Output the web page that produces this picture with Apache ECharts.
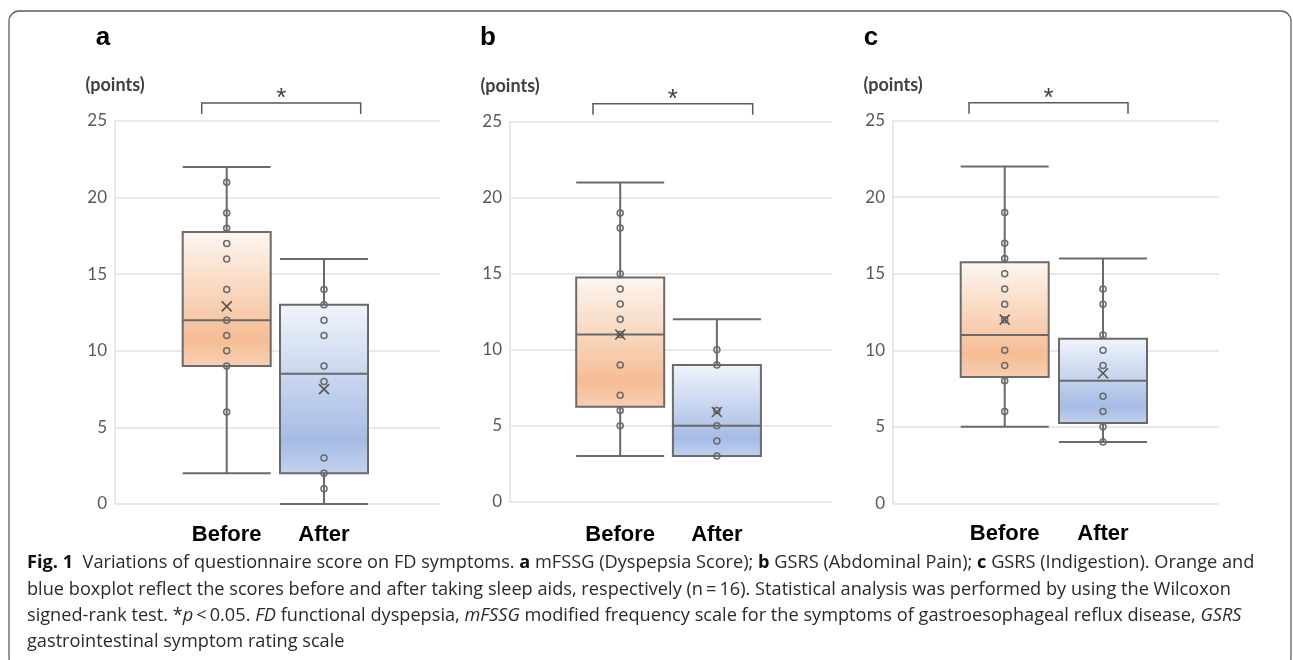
<!DOCTYPE html>
<html>
<head>
<meta charset="utf-8">
<script src="https://cdn.jsdelivr.net/npm/echarts@6/dist/echarts.min.js"></script>
<style>
  html, body { margin: 0; padding: 0; background: #fff; }
  #chart { width: 1293px; height: 660px; }
</style>
</head>
<body>
<div id="chart"></div>
<script>
// categories and y ticks
const categories = ['Before', 'After'];
const yTicks = [0, 5, 10, 15, 20, 25];

// box stats: [min, Q1, median, Q3, max]
const boxA = [[2, 9, 12, 17.75, 22], [0, 2, 8.5, 13, 16]];
const boxB = [[3, 6.25, 11, 14.75, 21], [3, 3, 5, 9, 12]];
const boxC = [[5, 8.25, 11, 15.75, 22], [4, 5.25, 8, 10.75, 16]];

// means (x markers)
const meanA = [12.9, 7.5];
const meanB = [11, 5.9];
const meanC = [12, 8.5];

// inner points
const dotsABefore = [21, 19, 18, 17, 16, 14, 12, 11, 10, 9, 6];
const dotsAAfter = [14, 13, 12, 11, 9, 8, 3, 2, 1];
const dotsBBefore = [19, 18, 15, 14, 13, 12, 11, 9, 7, 6, 5];
const dotsBAfter = [10, 9, 6, 5, 4, 3];
const dotsCBefore = [19, 17, 16, 15, 14, 13, 12, 10, 9, 8, 6];
const dotsCAfter = [14, 13, 11, 10, 9, 7, 6, 5, 4];

const captionLines = [
  '{b|Fig. 1}  Variations of questionnaire score on FD symptoms. {b|a} mFSSG (Dyspepsia Score); {b|b} GSRS (Abdominal Pain); {b|c} GSRS (Indigestion). Orange and',
  'blue boxplot reflect the scores before and after taking sleep aids, respectively (n\u2009=\u200916). Statistical analysis was performed by using the Wilcoxon',
  'signed-rank test. *{i|p}\u2009<\u20090.05. {i|FD} functional dyspepsia, {i|mFSSG} modified frequency scale for the symptoms of gastroesophageal reflux disease, {i|GSRS}',
  'gastrointestinal symptom rating scale'
];

// layout of each panel
const panels = [
  { letter: 'a', box: boxA, mean: meanA, dots: [dotsABefore, dotsAAfter],
    gridL: 115, gridR: 440, top: 121, zero: 504, c0: 226.7, c1: 324, br: [201.7, 360.7], letterX: 103, labelMargin: 20 },
  { letter: 'b', box: boxB, mean: meanB, dots: [dotsBBefore, dotsBAfter],
    gridL: 510, gridR: 832, top: 121.7, zero: 501.7, c0: 620.2, c1: 716.9, br: [593, 752.7], letterX: 488, labelMargin: 22.5 },
  { letter: 'c', box: boxC, mean: meanC, dots: [dotsCBefore, dotsCAfter],
    gridL: 893, gridR: 1219, top: 120.7, zero: 503.3, c0: 1004.7, c1: 1103, br: [969, 1128], letterX: 871, labelMargin: 19.5 }
];

const palettes = [
  ['#fdf6f1', '#f5bd94', '#f8cfb2'],
  ['#f0f4fb', '#a6bce5', '#c3d2ef']
];

// gradient relative to the whole box path (whiskers included), so map onto box part
function boxGradient(s, pal) {
  const span = s[4] - s[0] || 1;
  const t = (s[4] - s[3]) / span;
  const b = (s[4] - s[1]) / span;
  const at = (f) => t + (b - t) * f;
  return new echarts.graphic.LinearGradient(0, 0, 0, 1, [
    { offset: 0, color: pal[0] },
    { offset: at(0), color: pal[0] },
    { offset: at(0.8), color: pal[1] },
    { offset: at(1), color: pal[2] },
    { offset: 1, color: pal[2] }
  ]);
}

const lineColor = '#6a6a6a';
const grid = [], xAxis = [], yAxis = [], series = [], graphic = [];

panels.forEach((p, k) => {
  const band = p.c1 - p.c0;
  grid.push({ left: p.gridL, width: p.gridR - p.gridL, top: p.top, height: p.zero - p.top });
  grid.push({ left: p.c0 - band / 2, width: band * 2, top: p.top, height: p.zero - p.top });

  xAxis.push({ type: 'value', gridIndex: 2 * k, show: false, min: 0, max: 1 });
  yAxis.push({
    type: 'value', gridIndex: 2 * k,
    min: yTicks[0], max: yTicks[yTicks.length - 1], interval: yTicks[1] - yTicks[0],
    axisLine: { show: true, lineStyle: { color: '#e0e0e0', width: 1.5 } },
    axisTick: { show: false },
    splitLine: { lineStyle: { color: '#e2e2e2', width: 1.5 } },
    axisLabel: { color: '#595959', fontFamily: 'Lato', fontSize: 17, margin: 8 }
  });
  xAxis.push({
    type: 'category', gridIndex: 2 * k + 1, data: categories,
    axisLine: { show: false }, axisTick: { show: false },
    axisLabel: { color: '#000', fontFamily: 'Liberation Sans', fontWeight: 'bold', fontSize: 22, margin: p.labelMargin }
  });
  yAxis.push({
    type: 'value', gridIndex: 2 * k + 1, show: false,
    min: yTicks[0], max: yTicks[yTicks.length - 1], interval: yTicks[1] - yTicks[0],
    splitLine: { show: false }
  });

  series.push({
    type: 'boxplot', xAxisIndex: 2 * k + 1, yAxisIndex: 2 * k + 1,
    boxWidth: [88, 88],
    itemStyle: { borderColor: lineColor, borderWidth: 2 },
    data: p.box.map((s, i) => ({ value: s, itemStyle: { color: boxGradient(s, palettes[i]) } }))
  });
  series.push({
    type: 'scatter', xAxisIndex: 2 * k + 1, yAxisIndex: 2 * k + 1,
    symbol: 'circle', symbolSize: 6,
    itemStyle: { color: 'rgba(0,0,0,0)', borderColor: '#6a6a6a', borderWidth: 1.5, opacity: 1 },
    data: p.dots[0].map(v => [0, v]).concat(p.dots[1].map(v => [1, v]))
  });
  series.push({
    type: 'scatter', xAxisIndex: 2 * k + 1, yAxisIndex: 2 * k + 1,
    symbol: 'path://M0,0L10,10M10,0L0,10', symbolSize: 10,
    itemStyle: { color: 'rgba(0,0,0,0)', borderColor: '#555', borderWidth: 1.6, opacity: 1 },
    data: p.mean.map((v, i) => [i, v])
  });

  // annotations
  graphic.push({
    type: 'text', x: p.letterX, y: 38,
    style: { text: p.letter, fontFamily: 'Liberation Sans', fontWeight: 'bold', fontSize: 26, fill: '#000', align: 'center', verticalAlign: 'middle' }
  });
  graphic.push({
    type: 'text', x: p.gridL, y: p.top - 36,
    style: { text: '(points)', fontFamily: 'Lato', fontWeight: 'bold', fontSize: 18, fill: '#404040', align: 'center', verticalAlign: 'middle' }
  });
  graphic.push({
    type: 'polyline',
    shape: { points: [[p.br[0], p.top - 7], [p.br[0], p.top - 18], [p.br[1], p.top - 18], [p.br[1], p.top - 7]] },
    style: { stroke: '#5a5a5a', lineWidth: 1.5, fill: null }
  });
  graphic.push({
    type: 'text', x: (p.br[0] + p.br[1]) / 2, y: p.top - 22,
    style: { text: '*', fontFamily: 'Liberation Sans', fontSize: 26, fill: '#404040', align: 'center', verticalAlign: 'middle' }
  });
});

// frame
graphic.push({
  type: 'rect', shape: { x: 9, y: 11, width: 1282, height: 657, r: 10 },
  style: { stroke: '#5f5f5f', lineWidth: 1.3, fill: null }
});

// caption
const capFont = { fontFamily: 'Open Sans', fontSize: 18 };
captionLines.forEach((line, i) => {
  graphic.push({
    type: 'text', x: 27, y: 563 + i * 26.4, scaleX: 1.01,
    style: Object.assign({
      text: line, fill: '#2a2a2a', verticalAlign: 'middle',
      rich: {
        b: Object.assign({ fontWeight: 'bold', fill: '#111' }, capFont),
        i: Object.assign({ fontStyle: 'italic' }, capFont)
      }
    }, capFont)
  });
});

const chart = echarts.init(document.getElementById('chart'), null, { renderer: 'canvas' });
chart.setOption({
  animation: false,
  backgroundColor: '#fff',
  grid, xAxis, yAxis, series, graphic
});
</script>
</body>
</html>
